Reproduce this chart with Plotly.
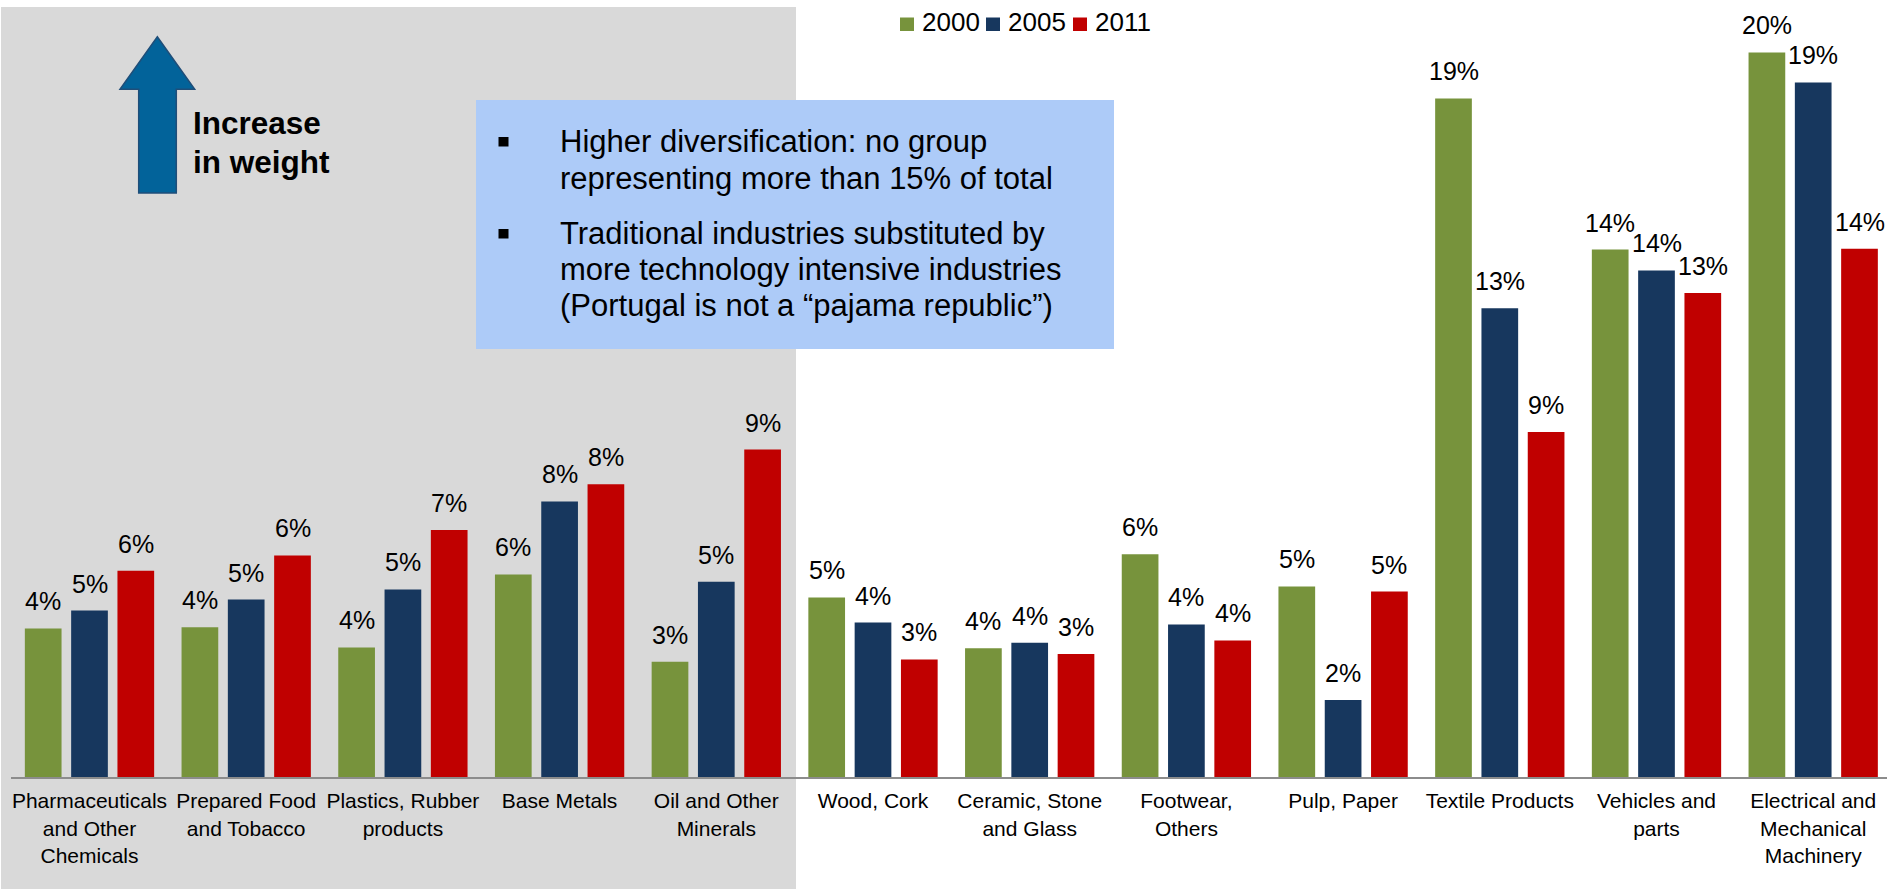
import plotly.graph_objects as go

# ---- data (share of exports, %) ----
categories = [
    "Pharmaceuticals and Other Chemicals", "Prepared Food and Tobacco",
    "Plastics, Rubber products", "Base Metals", "Oil and Other Minerals",
    "Wood, Cork", "Ceramic, Stone and Glass", "Footwear, Others",
    "Pulp, Paper", "Textile Products", "Vehicles and parts",
    "Electrical and Mechanical Machinery",
]
tick_labels = [
    "Pharmaceuticals<br>and Other<br>Chemicals", "Prepared Food<br>and Tobacco",
    "Plastics, Rubber<br>products", "Base Metals", "Oil and Other<br>Minerals",
    "Wood, Cork", "Ceramic, Stone<br>and Glass", "Footwear,<br>Others",
    "Pulp, Paper", "Textile Products", "Vehicles and<br>parts",
    "Electrical and<br>Mechanical<br>Machinery",
]
years = ["2000", "2005", "2011"]
share_2000 = [4.07, 4.10, 3.55, 5.55, 3.16, 4.92, 3.53, 6.10, 5.22, 18.59, 14.45, 19.85]
share_2005 = [4.56, 4.86, 5.14, 7.55, 5.35, 4.23, 3.68, 4.18, 2.11, 12.84, 13.88, 19.03]
share_2011 = [5.65, 6.07, 6.77, 8.02, 8.97, 3.22, 3.37, 3.74, 5.08, 9.45, 13.26, 14.47]
series = [share_2000, share_2005, share_2011]
colors = ["#77933C", "#17375E", "#C00000"]

note_lines_1 = ["Higher diversification: no group", "representing more than 15% of total"]
note_lines_2 = ["Traditional industries substituted by",
                "more technology intensive industries",
                "(Portugal is not a \u201cpajama republic\u201d)"]

FONT = "Arial, 'Liberation Sans', sans-serif"

# ---- canvas geometry ----
W, H = 1887, 889
ML, MR, MT, MB = 11, 0, 0, 112
PW, PH = W - ML - MR, H - MT - MB
PX_PER_PCT = 36.5
CAT_PX = 156.7          # horizontal pitch of one category
SLOT_PX = 46.3          # pitch of bars inside a group


def px(x):
    return (x - ML) / PW


def py(y):
    return (PH - (y - MT)) / PH


def base_y(baseline, fs):
    # paper y of an annotation bottom so that the text baseline sits at `baseline`
    return py(baseline + 1 + 0.212 * fs)


fig = go.Figure()
for name, vals, col in zip(years, series, colors):
    fig.add_trace(go.Bar(
        x=categories, y=vals, name=name, marker=dict(color=col, line=dict(width=0)),
        showlegend=False, hoverinfo="skip",
    ))

annotations = []
# value labels above bars
for i, (vals, col) in enumerate(zip(series, colors)):
    for cat, v in zip(categories, vals):
        annotations.append(dict(
            x=cat, y=v, xref="x", yref="y", text=f"{v:.0f}%", showarrow=False,
            xanchor="center", yanchor="bottom", xshift=(i - 1) * SLOT_PX, yshift=11,
            font=dict(family=FONT, size=25, color="black"),
        ))

# legend
legend_x = [(900, 920), (986, 1006), (1073, 1093)]
shapes = []
for (sx, tx), name, col in zip(legend_x, years, colors):
    shapes.append(dict(type="rect", xref="paper", yref="paper", x0=px(sx), x1=px(sx + 14),
                       y0=py(31), y1=py(17.5), fillcolor=col, line=dict(width=0)))
    annotations.append(dict(x=px(tx), y=base_y(32.7, 26), xref="paper", yref="paper",
                            text=name, showarrow=False, xanchor="left", yanchor="bottom",
                            font=dict(family=FONT, size=26, color="black")))

# grey panel behind the first five groups
shapes.insert(0, dict(type="rect", xref="paper", yref="paper", x0=px(1), x1=px(796),
                      y0=py(889), y1=py(7), fillcolor="#D9D9D9", line=dict(width=0),
                      layer="below"))

# blue note box
shapes.append(dict(type="rect", xref="paper", yref="paper", x0=px(476), x1=px(1114),
                   y0=py(349), y1=py(100), fillcolor="#ADCBF8", line=dict(width=0),
                   layer="above"))

note_fs = 31
for lines, baselines in ((note_lines_1, [153, 190]), (note_lines_2, [245, 281, 317])):
    top_base = baselines[0]
    shapes.append(dict(type="rect", xref="paper", yref="paper", x0=px(498.5), x1=px(508.5),
                       y0=py(top_base - 6.5), y1=py(top_base - 16), fillcolor="black",
                       line=dict(width=0), layer="above"))
    for line, b in zip(lines, baselines):
        annotations.append(dict(x=px(557.5), y=base_y(b, note_fs), xref="paper", yref="paper",
                                text=line, showarrow=False, xanchor="left", yanchor="bottom",
                                font=dict(family=FONT, size=note_fs, color="black")))

# upward arrow
arrow_pts = [(157.3, 36.7), (194.7, 89.3), (176.3, 89.3), (176.3, 193),
             (138.7, 193), (138.7, 89.3), (120, 89.3)]
path = "M " + " L ".join(f"{px(x):.5f},{py(y):.5f}" for x, y in arrow_pts) + " Z"
shapes.append(dict(type="path", xref="paper", yref="paper", path=path,
                   fillcolor="#02639A", line=dict(color="#1F4E79", width=1.5), layer="above"))

for txt, b in (("Increase", 135.7), ("in weight", 174)):
    annotations.append(dict(x=px(191), y=base_y(b, 31.5), xref="paper", yref="paper",
                            text=f"<b>{txt}</b>", showarrow=False, xanchor="left",
                            yanchor="bottom", font=dict(family=FONT, size=31.5, color="black")))

r0 = -(89.5 - ML) / CAT_PX
fig.update_layout(
    width=W, height=H,
    margin=dict(l=ML, r=MR, t=MT, b=MB, pad=0),
    paper_bgcolor="white", plot_bgcolor="rgba(0,0,0,0)",
    barmode="group", bargap=1 - 3 * SLOT_PX / CAT_PX, bargroupgap=1 - 36.7 / SLOT_PX,
    showlegend=False,
    xaxis=dict(
        range=[r0, r0 + PW / CAT_PX], tickmode="array", tickvals=categories,
        ticktext=tick_labels, ticks="", showgrid=False, zeroline=False,
        showline=True, linecolor="#8C8C8C", linewidth=2, ticklabelstandoff=4,
        tickfont=dict(family=FONT, size=21, color="black"), fixedrange=True,
    ),
    yaxis=dict(range=[0, PH / PX_PER_PCT], visible=False, fixedrange=True),
    shapes=shapes, annotations=annotations,
    font=dict(family=FONT),
)

fig.write_html("out.html", config={"displayModeBar": False})
